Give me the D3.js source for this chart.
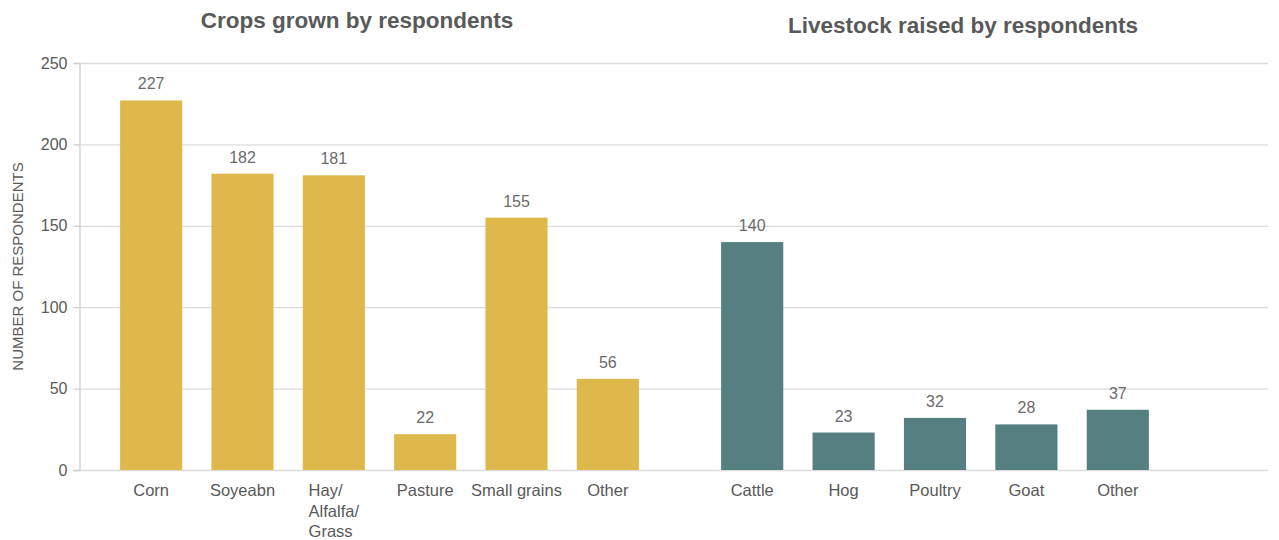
<!DOCTYPE html>
<html>
<head>
<meta charset="utf-8">
<script src="https://cdn.jsdelivr.net/npm/d3@7"></script>
<style>
  body { margin: 0; background: #fff; }
  svg text { font-family: "Liberation Sans", Arial, Helvetica, sans-serif; }
</style>
</head>
<body>
<div id="chart"></div>
<script>
// Data
const cropCategories = ["Corn", "Soyeabn", "Hay/ Alfalfa/ Grass", "Pasture", "Small grains", "Other"];
const cropValues = [227, 182, 181, 22, 155, 56];
const livestockCategories = ["Cattle", "Hog", "Poultry", "Goat", "Other"];
const livestockValues = [140, 23, 32, 28, 37];
const yTicks = [0, 50, 100, 150, 200, 250];
const titles = ["Crops grown by respondents", "Livestock raised by respondents"];
const yLabel = "NUMBER OF RESPONDENTS";

const CROP_COLOR = "#dfb84c";
const LIVESTOCK_COLOR = "#557f80";
const TEXT_COLOR = "#595959";

const W = 1279, H = 540;
const plotLeft = 79, plotRight = 1268, plotTop = 63, plotBottom = 470;
const splitX = 680;   // boundary between the two groups

const svg = d3.select("#chart").append("svg")
    .attr("width", W)
    .attr("height", H);

const y = d3.scaleLinear()
    .domain([0, 250])
    .range([plotBottom, plotTop]);

// gridlines
svg.append("g")
    .selectAll("line")
    .data(yTicks)
    .enter()
    .append("line")
    .attr("x1", plotLeft)
    .attr("x2", plotRight)
    .attr("y1", d => y(d) + 0.5)
    .attr("y2", d => y(d) + 0.5)
    .attr("stroke", "#dcdcdc")
    .attr("stroke-width", 1.3);

// y axis
const yAxis = svg.append("g")
    .attr("transform", "translate(" + (plotLeft + 0.5) + ",0)")
    .call(d3.axisLeft(y).tickValues(yTicks).tickSize(6).tickPadding(6));
yAxis.select(".domain").attr("stroke", "#cfcfcf").attr("stroke-width", 1.3);
yAxis.selectAll(".tick line").attr("stroke", "#cfcfcf").attr("stroke-width", 1.3);
yAxis.selectAll(".tick text")
    .attr("fill", TEXT_COLOR)
    .style("font-size", "16px");

svg.append("text")
    .attr("transform", "translate(23," + ((plotTop + plotBottom) / 2) + ") rotate(-90)")
    .attr("text-anchor", "middle")
    .attr("fill", TEXT_COLOR)
    .style("font-size", "15px")
    .text(yLabel);

function drawGroup(categories, values, range, color, title, titleX, titleY) {
    const x = d3.scaleBand()
        .domain(categories)
        .range(range)
        .paddingInner(0.32)
        .paddingOuter(0.45);

    const data = categories.map((c, i) => ({label: c, value: values[i]}));
    const g = svg.append("g");

    g.selectAll("rect")
        .data(data)
        .enter()
        .append("rect")
        .attr("x", d => x(d.label))
        .attr("y", d => y(d.value))
        .attr("width", x.bandwidth())
        .attr("height", d => y(0) - y(d.value))
        .attr("fill", color);

    g.selectAll(".value")
        .data(data)
        .enter()
        .append("text")
        .attr("class", "value")
        .attr("x", d => x(d.label) + x.bandwidth() / 2)
        .attr("y", d => y(d.value) - 11)
        .attr("text-anchor", "middle")
        .attr("fill", "#6b6b6b")
        .style("font-size", "16px")
        .text(d => d.value);

    // category labels, multi-line ones are left aligned as a block
    data.forEach(d => {
        const lines = d.label.indexOf("/") >= 0 ? d.label.split(" ") : [d.label];
        const t = g.append("text")
            .attr("fill", TEXT_COLOR)
            .style("font-size", "16.5px")
            .attr("y", plotBottom + 26);
        lines.forEach((ln, i) => {
            t.append("tspan")
                .attr("dy", i === 0 ? 0 : 20.5)
                .text(ln);
        });
        const cx = x(d.label) + x.bandwidth() / 2;
        if (lines.length > 1) {
            let maxW = 0;
            t.selectAll("tspan").each(function() {
                maxW = Math.max(maxW, this.getComputedTextLength());
            });
            t.selectAll("tspan").attr("x", cx - maxW / 2);
        } else {
            t.attr("text-anchor", "middle");
            t.selectAll("tspan").attr("x", cx);
        }
    });

    svg.append("text")
        .attr("x", titleX)
        .attr("y", titleY)
        .attr("text-anchor", "middle")
        .attr("fill", TEXT_COLOR)
        .style("font-size", "22.5px")
        .style("font-weight", "bold")
        .text(title);
}

drawGroup(cropCategories, cropValues, [plotLeft, splitX], CROP_COLOR, titles[0], 357, 28);
drawGroup(livestockCategories, livestockValues, [splitX, 1190], LIVESTOCK_COLOR, titles[1], 963, 33);
</script>
</body>
</html>
